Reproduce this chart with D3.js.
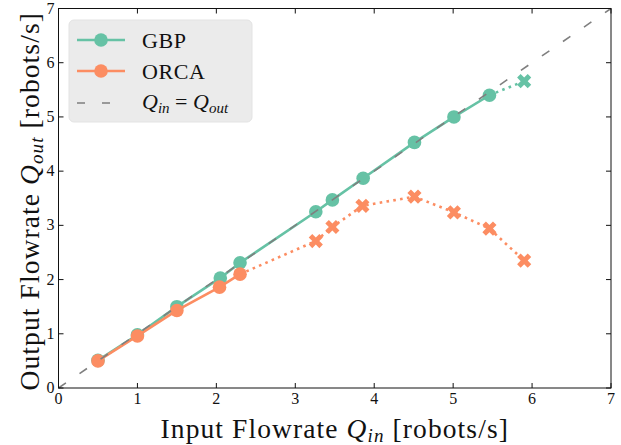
<!DOCTYPE html>
<html><head><meta charset="utf-8">
<script src="https://cdn.jsdelivr.net/npm/d3@7"></script>
<style>body{margin:0;background:#fff}svg{display:block}text{font-family:"Liberation Serif","DejaVu Serif",serif;fill:#111}</style>
</head><body>
<script>
const gbpX = [0.5, 1.0, 1.5, 2.05, 2.3, 3.26, 3.47, 3.86, 4.51, 5.01, 5.46];
const gbpY = [0.51, 0.98, 1.5, 2.03, 2.31, 3.25, 3.47, 3.87, 4.53, 5.0, 5.4];
const gbpFailX = [5.46, 5.9];
const gbpFailY = [5.4, 5.66];
const orcaX = [0.5, 1.0, 1.5, 2.04, 2.3];
const orcaY = [0.5, 0.96, 1.43, 1.86, 2.1];
const orcaFailX = [2.3, 3.26, 3.47, 3.85, 4.51, 5.01, 5.46, 5.9];
const orcaFailY = [2.1, 2.71, 2.97, 3.36, 3.53, 3.24, 2.94, 2.35];
const xTicks = [0,1,2,3,4,5,6,7];
const yTicks = [0,1,2,3,4,5,6,7];
const idealX = [0, 7];

const W = 621, H = 445;
const L = 58.5, R = 611, T = 8.5, B = 388;
const svg = d3.select("body").append("svg").attr("width", W).attr("height", H);
const x = d3.scaleLinear().domain([0,7]).range([L,R]);
const y = d3.scaleLinear().domain([0,7]).range([B,T]);
const C1 = "#66c2a5", C2 = "#fc8d62";

const line = d3.line().x(d=>x(d[0])).y(d=>y(d[1]));
const zip = (a,b)=>a.map((v,i)=>[v,b[i]]);

function solid(xs, ys, c){
  svg.append("path").attr("d", line(zip(xs,ys))).attr("fill","none").attr("stroke",c).attr("stroke-width",2.6);
  svg.selectAll(null).data(zip(xs,ys)).enter().append("circle")
    .attr("cx",d=>x(d[0])).attr("cy",d=>y(d[1])).attr("r",6.8).attr("fill",c);
}
function dotted(xs, ys, c){
  svg.append("path").attr("d", line(zip(xs,ys))).attr("fill","none").attr("stroke",c).attr("stroke-width",2.6).attr("stroke-dasharray","2.6,4.3");
  const cross = d3.symbol().type(d3.symbolCross).size(125);
  svg.selectAll(null).data(zip(xs,ys).slice(1)).enter().append("path")
    .attr("d", cross).attr("fill",c)
    .attr("transform",d=>`translate(${x(d[0])},${y(d[1])}) rotate(45)`);
}
dotted(gbpFailX, gbpFailY, C1);
solid(gbpX, gbpY, C1);
dotted(orcaFailX, orcaFailY, C2);
solid(orcaX, orcaY, C2);

svg.append("path").attr("d", line(zip(idealX, idealX))).attr("fill","none")
  .attr("stroke","#7f7f7f").attr("stroke-width",1.6).attr("stroke-dasharray","9,16.5");

// frame
svg.append("rect").attr("x",L).attr("y",T).attr("width",R-L).attr("height",B-T)
  .attr("fill","none").attr("stroke","#111").attr("stroke-width",1);

const tl = 5;
xTicks.forEach(t=>{
  svg.append("line").attr("x1",x(t)).attr("x2",x(t)).attr("y1",B).attr("y2",B-tl).attr("stroke","#111");
  svg.append("line").attr("x1",x(t)).attr("x2",x(t)).attr("y1",T).attr("y2",T+tl).attr("stroke","#111");
  svg.append("text").attr("x",x(t)).attr("y",B+16).attr("text-anchor","middle").attr("font-size",16).text(t);
});
yTicks.forEach(t=>{
  svg.append("line").attr("x1",L).attr("x2",L+tl).attr("y1",y(t)).attr("y2",y(t)).attr("stroke","#111");
  svg.append("line").attr("x1",R).attr("x2",R-tl).attr("y1",y(t)).attr("y2",y(t)).attr("stroke","#111");
  svg.append("text").attr("x",L-4).attr("y",y(t)+5).attr("text-anchor","end").attr("font-size",16).text(t);
});

// axis labels
const xl = svg.append("text").attr("x",(L+R)/2).attr("y",438).attr("text-anchor","middle").attr("font-size",27.5).attr("letter-spacing",1.1);
xl.append("tspan").text("Input Flowrate ");
xl.append("tspan").attr("font-style","italic").text("Q");
xl.append("tspan").attr("font-style","italic").attr("font-size",19).attr("dy",4).text("in");
xl.append("tspan").attr("dy",-4).text(" [robots/s]");

const yl = svg.append("text").attr("transform",`translate(39,${(T+B)/2 + 3}) rotate(-90)`).attr("text-anchor","middle").attr("font-size",27.5).attr("letter-spacing",1.1);
yl.append("tspan").text("Output Flowrate ");
yl.append("tspan").attr("font-style","italic").text("Q");
yl.append("tspan").attr("font-style","italic").attr("font-size",19).attr("dy",4).text("out");
yl.append("tspan").attr("dy",-4).text(" [robots/s]");

// legend
const lg = svg.append("g");
lg.append("rect").attr("x",69).attr("y",20).attr("width",183).attr("height",102).attr("rx",5)
  .attr("fill","#ebebeb").attr("stroke","#e3e3e3");
[[C1,"GBP",40],[C2,"ORCA",71]].forEach(([c,t,yy])=>{
  lg.append("line").attr("x1",77).attr("x2",125).attr("y1",yy).attr("y2",yy).attr("stroke",c).attr("stroke-width",2.6);
  lg.append("circle").attr("cx",101).attr("cy",yy).attr("r",6.8).attr("fill",c);
  lg.append("text").attr("x",142).attr("y",yy+7.5).attr("font-size",22).attr("letter-spacing",0.6).text(t);
});
lg.append("line").attr("x1",77).attr("x2",125).attr("y1",103).attr("y2",103).attr("stroke","#7f7f7f").attr("stroke-width",1.6).attr("stroke-dasharray","8,17");
const qt = lg.append("text").attr("x",142).attr("y",109).attr("font-size",22);
qt.append("tspan").attr("font-style","italic").text("Q");
qt.append("tspan").attr("font-style","italic").attr("font-size",15).attr("dy",4).text("in");
qt.append("tspan").attr("dy",-4).text(" = ");
qt.append("tspan").attr("font-style","italic").text("Q");
qt.append("tspan").attr("font-style","italic").attr("font-size",15).attr("dy",4).text("out");
</script>
</body></html>
